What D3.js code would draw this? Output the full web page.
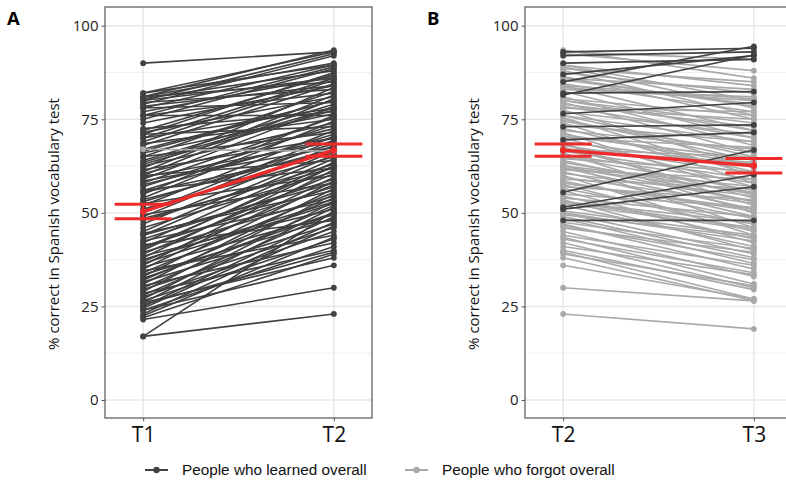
<!DOCTYPE html>
<html>
<head>
<meta charset="utf-8">
<script src="https://cdn.jsdelivr.net/npm/d3@7"></script>
<style>
  html, body { margin: 0; padding: 0; background: #fff; }
  svg { display: block; }
</style>
</head>
<body>
<svg id="chart" width="786" height="491"></svg>
<script>
// Per-participant vocabulary scores (% correct) at the three test sessions
const scoreT1 = [
  90, 81, 82, 80, 79, 81, 78, 82, 76, 75, 80.5, 71, 72, 77, 70, 69, 81, 68, 74, 62,
  79.5, 65, 76, 61, 71.5, 60, 67, 78, 64, 59, 70, 63, 72.5, 66, 55, 76, 58, 68.5, 54, 62.5,
  71, 57, 60.5, 52, 65, 56, 50, 61.5, 49, 59.5, 53, 47, 58.5, 67, 45, 55.5, 44, 51, 42, 60,
  40, 48, 38, 56, 36, 46, 39, 52.5, 35, 43, 33, 49.5, 37, 41, 31, 44.5, 34, 29, 39.5, 32,
  42.5, 27, 36.5, 30, 26, 38.5, 17, 28, 35.5, 25, 33.5, 41.5, 24.5, 31.5, 23, 29.5, 27.5, 34.5, 22.5, 26.5,
  30.5, 24, 28.5, 25.5, 22, 26, 24, 21.5, 17,
  80, 78.5, 63.5, 53.5, 48.5, 44, 37.5, 32.5, 40.5, 57.5, 66.5
];
const scoreT2 = [
  93, 93.5, 93, 92.5, 92, 90, 89.5, 89.5, 89, 88.5, 88, 87.5, 87, 86.5, 86, 85.5, 85, 84.5, 84, 83.5,
  83, 82.5, 82, 81.5, 81, 80.5, 80, 79.5, 79, 78.5, 78, 77.5, 77, 76.5, 76, 76, 75.5, 75, 74.5, 74,
  73, 73.5, 72.5, 72, 71.5, 71, 70.5, 70, 69.5, 69, 68.5, 68, 67.5, 66.5, 66.5, 66, 65.5, 65, 64.5, 64,
  63.5, 63, 62.5, 62, 61.5, 61, 60.5, 60, 59.5, 59, 58.5, 58, 57.5, 57, 56.5, 56, 55.5, 55, 54.5, 54,
  53.5, 53, 52.5, 52, 51.5, 51, 50.5, 50, 49.5, 49, 48.5, 48, 47.5, 47, 46.5, 46, 45, 44, 43.5, 43,
  42, 41, 40, 39.5, 39, 38, 36, 30, 23,
  86, 84, 78, 67, 62, 58, 53, 50, 62.5, 70, 80
];
const scoreT3 = [
  94, 86, 91, 88, 93, 91, 80, 84, 78, 85, 76, 82, 92, 75, 83, 79, 94.5, 77, 72, 80,
  81, 70, 82.4, 92.2, 68, 76, 74, 66, 73, 70, 77, 62, 71, 79.5, 69, 65, 60, 64, 66, 58,
  73.5, 69, 61, 67, 55, 63, 64.5, 57, 71.5, 62.5, 52, 60.5, 54, 59, 63.5, 50, 58, 56, 61, 53,
  55, 46, 57, 51, 59, 49, 54.5, 44, 52.5, 56.5, 48.5, 50.5, 45, 53.5, 47, 42, 66.8, 51.5, 43, 49,
  40, 47.5, 45.5, 41, 60.2, 57, 44, 39, 43.5, 38, 36.5, 48, 40.5, 35, 37.5, 39.5, 33, 36, 31, 34,
  30, 33.5, 29.5, 27, 30.5, 26.5, 27, 26.5, 19,
  78.5, 80.5, 75, 65, 55.5, 51, 46, 42.5, 53, 67.5, 72
];

// Group means with ±1 SE, per panel
const sessionsA = ["T1", "T2"];
const meanA = [50.35, 66.75];
const seA = [1.95, 1.65];
const sessionsB = ["T2", "T3"];
const meanB = [66.75, 62.6];
const seB = [1.65, 1.95];

const yTicks = [0, 25, 50, 75, 100];
const yMinor = [12.5, 37.5, 62.5, 87.5];
const legendLabels = ["People who learned overall", "People who forgot overall"];
const panelLabels = ["A", "B"];
const yTitle = "% correct in Spanish vocabulary test";

const DARK = "#414141";
const LIGHT = "#a9a9a9";
const RED = "#ee2a2a";

const svg = d3.select("#chart");

function drawPanel(left, label, sessions, from, to, means, ses, learnedOnTop) {
  const width = 267, top = 7, bottom = 418;
  const x = d3.scalePoint().domain(sessions).range([left, left + width]).padding(0.2);
  const y = d3.scaleLinear().domain([-4.8, 105]).range([bottom, top]);
  const g = svg.append("g");

  // grid
  g.selectAll(".minor").data(yMinor).join("line")
    .attr("x1", left).attr("x2", left + width)
    .attr("y1", d => y(d)).attr("y2", d => y(d))
    .attr("stroke", "#f0f0f0").attr("stroke-width", 1);
  g.selectAll(".major").data(yTicks).join("line")
    .attr("x1", left).attr("x2", left + width)
    .attr("y1", d => y(d)).attr("y2", d => y(d))
    .attr("stroke", "#e6e6e6").attr("stroke-width", 1.4);
  g.selectAll(".vgrid").data(sessions).join("line")
    .attr("x1", d => x(d)).attr("x2", d => x(d))
    .attr("y1", top).attr("y2", bottom)
    .attr("stroke", "#e6e6e6").attr("stroke-width", 1.4);

  // participants
  const rows = from.map((v, i) => ({ a: v, b: to[i], learned: to[i] >= v }));
  const ordered = rows.filter(r => r.learned !== learnedOnTop)
    .concat(rows.filter(r => r.learned === learnedOnTop));
  const pg = g.append("g");
  ordered.forEach(r => {
    const c = r.learned ? DARK : LIGHT;
    pg.append("line")
      .attr("x1", x(sessions[0])).attr("y1", y(r.a))
      .attr("x2", x(sessions[1])).attr("y2", y(r.b))
      .attr("stroke", c).attr("stroke-width", 1.6);
    pg.append("circle").attr("cx", x(sessions[0])).attr("cy", y(r.a)).attr("r", 2.9).attr("fill", c);
    pg.append("circle").attr("cx", x(sessions[1])).attr("cy", y(r.b)).attr("r", 2.9).attr("fill", c);
  });

  // means and SE bars
  const rg = g.append("g");
  rg.append("line")
    .attr("x1", x(sessions[0])).attr("y1", y(means[0]))
    .attr("x2", x(sessions[1])).attr("y2", y(means[1]))
    .attr("stroke", RED).attr("stroke-width", 3.4);
  sessions.forEach((s, i) => {
    const cx = x(s), hi = means[i] + ses[i], lo = means[i] - ses[i];
    rg.append("line").attr("x1", cx).attr("x2", cx).attr("y1", y(hi)).attr("y2", y(lo))
      .attr("stroke", RED).attr("stroke-width", 2);
    [hi, lo].forEach(v => rg.append("line")
      .attr("x1", cx - 28.5).attr("x2", cx + 28.5).attr("y1", y(v)).attr("y2", y(v))
      .attr("stroke", RED).attr("stroke-width", 3));
    rg.append("circle").attr("cx", cx).attr("cy", y(means[i])).attr("r", 3.2).attr("fill", RED);
  });

  // frame
  g.append("rect").attr("x", left).attr("y", top).attr("width", width).attr("height", bottom - top)
    .attr("fill", "none").attr("stroke", "#555").attr("stroke-width", 1.2);

  // axes
  const ya = g.append("g").attr("transform", `translate(${left},0)`)
    .call(d3.axisLeft(y).tickValues(yTicks).tickSize(3.5).tickPadding(3));
  ya.select(".domain").remove();
  ya.selectAll(".tick line").attr("stroke", "#555");
  ya.selectAll("text").attr("font-family", "'Open Sans', sans-serif").attr("font-size", 15).attr("fill", "#222");

  const xa = g.append("g").attr("transform", `translate(0,${bottom})`)
    .call(d3.axisBottom(x).tickSize(3.5).tickPadding(6));
  xa.select(".domain").remove();
  xa.selectAll(".tick line").attr("stroke", "#555");
  xa.selectAll("text").attr("font-family", "'Open Sans', sans-serif").attr("font-size", 21).attr("fill", "#111");

  g.append("text")
    .attr("transform", `translate(${left - 51},224) rotate(-90)`)
    .attr("text-anchor", "middle").attr("dy", "0.35em")
    .attr("font-family", "'Open Sans', sans-serif").attr("font-size", 15).attr("fill", "#111")
    .text(yTitle);

  svg.append("text").attr("x", left - 98).attr("y", 25)
    .attr("font-family", "'Open Sans', sans-serif").attr("font-weight", "bold")
    .attr("font-size", 18.5).attr("fill", "#000").text(label);
}

drawPanel(105, panelLabels[0], sessionsA, scoreT1, scoreT2, meanA, seA, false);
drawPanel(525, panelLabels[1], sessionsB, scoreT2, scoreT3, meanB, seB, true);

// legend
const legend = svg.append("g");
const legendX = [145, 405];
legendLabels.forEach((t, i) => {
  const c = i === 0 ? DARK : LIGHT;
  const lx = legendX[i];
  legend.append("line").attr("x1", lx).attr("x2", lx + 23).attr("y1", 470).attr("y2", 470)
    .attr("stroke", c).attr("stroke-width", 2);
  legend.append("circle").attr("cx", lx + 11.5).attr("cy", 470).attr("r", 3.2).attr("fill", c);
  legend.append("text").attr("x", lx + 37).attr("y", 470).attr("dy", "0.35em")
    .attr("font-family", "'Liberation Sans', Arial, sans-serif").attr("font-size", 15.3)
    .attr("fill", "#111").text(t);
});
</script>
</body>
</html>
